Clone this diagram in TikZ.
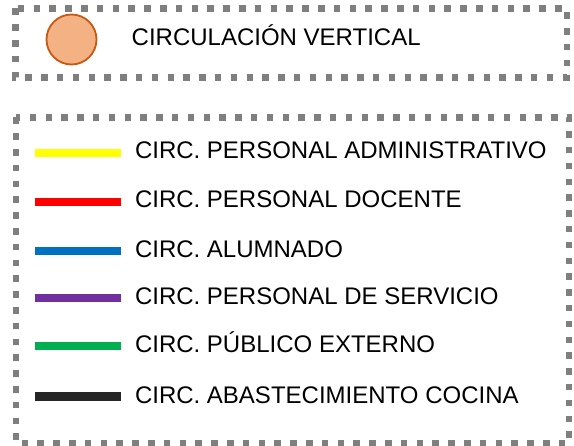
\documentclass[tikz,border=0pt]{standalone}
\usepackage{fontspec}
\setmainfont{Liberation Sans}
\usetikzlibrary{positioning}
\definecolor{framegray}{HTML}{7F7F7F}
\definecolor{vertfill}{HTML}{F4B183}
\definecolor{vertline}{HTML}{C55A11}
\definecolor{admcol}{HTML}{FFFF00}
\definecolor{doccol}{HTML}{FF0000}
\definecolor{alucol}{HTML}{0070C0}
\definecolor{sercol}{HTML}{7030A0}
\definecolor{pubcol}{HTML}{00B050}
\definecolor{coccol}{HTML}{262626}
\tikzset{
  legframe/.style={
    draw=framegray,
    line width=6.5pt,
    dash pattern=on 6.5pt off 9.3pt
  },
  legtext/.style={
    anchor=base west,
    inner sep=0pt,
    font=\fontsize{24}{28}\selectfont
  },
  swatch/.style={
    rectangle,
    inner sep=0pt,
    minimum width=86pt,
    minimum height=8pt
  },
  vertmark/.style={
    circle,
    inner sep=0pt,
    minimum size=50pt,
    fill=vertfill,
    draw=vertline,
    line width=1.8pt
  }
}

\begin{document}
\begin{tikzpicture}[x=1pt,y=-1pt]
  \useasboundingbox (0,0) rectangle (574,446);
  % upper legend box
  \draw[legframe] (15.3,8.5) rectangle (567,77.5);
  \node[vertmark] (vert) at (71.5,39.5) {};
  \node[legtext] (verttxt) at (131.5,45.3) {CIRCULACIÓN VERTICAL};
  % lower legend box
  \draw[legframe] (15.8,117.5) rectangle (569,443.5);
  \node[swatch, fill=admcol] (admsw) at (78,153) {};
  \node[swatch, fill=doccol] (docsw) at (78,202) {};
  \node[swatch, fill=alucol] (alusw) at (78,251) {};
  \node[swatch, fill=sercol] (sersw) at (78,298) {};
  \node[swatch, fill=pubcol] (pubsw) at (78,346) {};
  \node[swatch, fill=coccol, minimum height=9pt] (cocsw) at (78,397) {};
  \node[legtext] (admtxt) at (134.8,158.4) {CIRC. PERSONAL ADMINISTRATIVO};
  \node[legtext] (doctxt) at (134.8,207.3) {CIRC. PERSONAL DOCENTE};
  \node[legtext] (alutxt) at (134.8,257.3) {CIRC. ALUMNADO};
  \node[legtext] (sertxt) at (134.8,304.2) {CIRC. PERSONAL DE SERVICIO};
  \node[legtext] (pubtxt) at (134.8,352.5) {CIRC. PÚBLICO EXTERNO};
  \node[legtext] (coctxt) at (134.8,403.3) {CIRC. ABASTECIMIENTO COCINA};
\end{tikzpicture}
\end{document}
